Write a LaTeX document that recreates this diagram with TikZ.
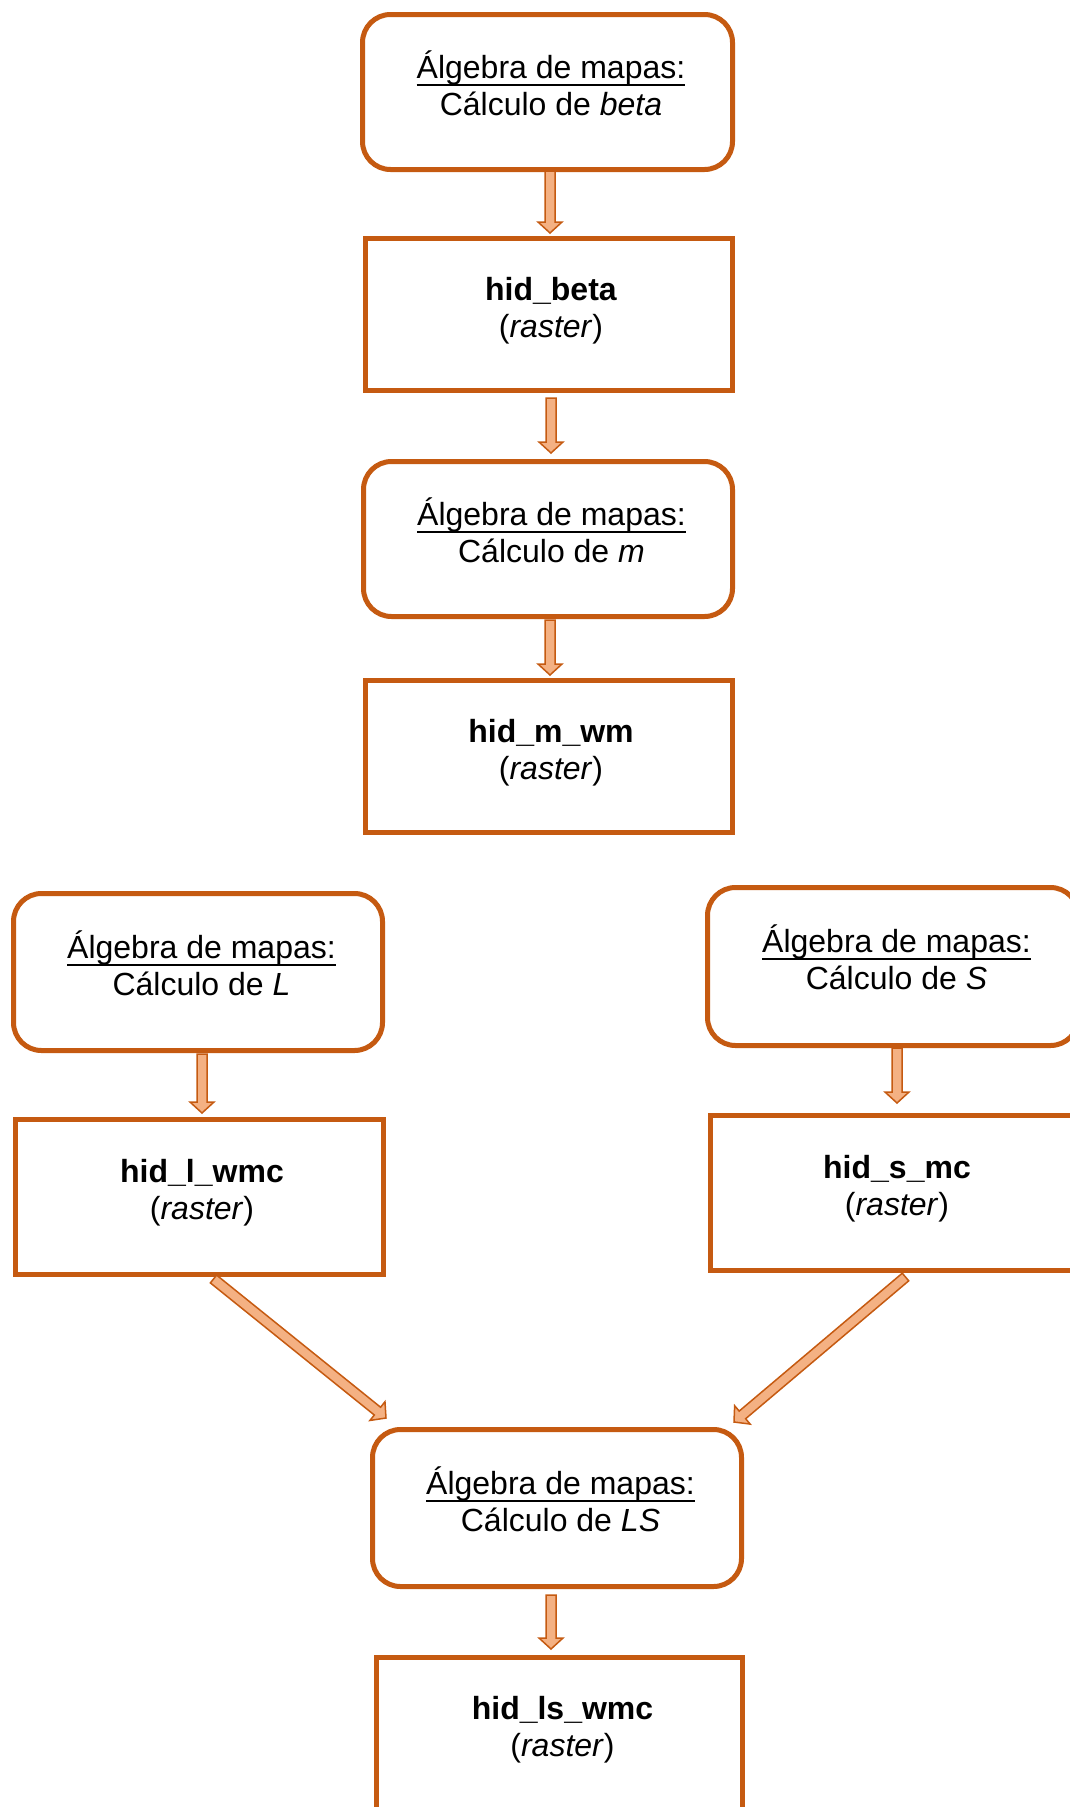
\documentclass[tikz,border=0pt]{standalone}
\usepackage{fontspec}
\setmainfont{Liberation Sans}
\usetikzlibrary{calc}
\definecolor{dk}{RGB}{197,90,17}
\definecolor{lt}{RGB}{244,177,131}
\newsavebox\myulbox
\newcommand\myul[1]{\sbox\myulbox{#1}\rlap{\rule[-7.5pt]{\wd\myulbox}{2pt}}\usebox\myulbox}
\newcommand\drawblockarrow{%
  \coordinate (ba-h) at ($(ba-e)!11pt!(ba-s)$);
  \draw[barrow] ($(ba-s)!5pt!90:(ba-e)$) -- ($(ba-h)!5pt!90:(ba-e)$) -- ($(ba-h)!12pt!90:(ba-e)$) -- (ba-e)
     -- ($(ba-h)!12pt!-90:(ba-e)$) -- ($(ba-h)!5pt!-90:(ba-e)$) -- ($(ba-s)!5pt!-90:(ba-e)$) -- cycle;
}
% free (diagonal) block arrow
\newcommand\blockarrow[2]{%
  \coordinate (ba-s) at #1;
  \coordinate (ba-e) at #2;
  \drawblockarrow
}
% vertical block arrow: start point, target point (only its y is used), gap above target
\newcommand\vblockarrow[3]{%
  \coordinate (ba-s) at #1;
  \coordinate (ba-t) at (ba-s |- #2);
  \coordinate (ba-e) at ([shift={(0,-#3)}]ba-t);
  \drawblockarrow
}
\tikzset{
  barrow/.style={draw=dk, fill=lt, line width=1.5pt, line join=miter},
  rbox/.style={draw=dk, line width=5pt, rounded corners=28pt, inner sep=0pt, fill=white},
  sbox/.style={draw=dk, line width=5pt, inner sep=0pt, fill=white},
  txt/.style={align=center, inner sep=0pt, text=black}
}
\begin{document}
\begin{tikzpicture}[x=1pt, y=-1pt, font=\fontsize{32}{37}\selectfont]
\useasboundingbox (0,0) rectangle (1070,1807);
\clip (0,0) rectangle (1070,1807);
% boxes
\node[rbox, minimum width=370pt, minimum height=155pt] (b1) at (547.5,92) {};
\node[sbox, minimum width=367pt, minimum height=152pt] (b2) at (549,314.5) {};
\node[rbox, minimum width=369pt, minimum height=155pt] (b3) at (548,539) {};
\node[sbox, minimum width=367pt, minimum height=152pt] (b4) at (549,756.5) {};
\node[rbox, minimum width=369pt, minimum height=157pt] (l1) at (198,972) {};
\node[sbox, minimum width=368pt, minimum height=155pt] (l2) at (199.5,1197) {};
\node[rbox, minimum width=371pt, minimum height=158pt] (s1) at (893,966.5) {};
\node[sbox, minimum width=370pt, minimum height=155pt] (s2) at (895.5,1193) {};
\node[rbox, minimum width=369pt, minimum height=157pt] (ls1) at (557,1508) {};
\node[sbox, minimum width=366pt, minimum height=152pt] (ls2) at (559.5,1733.5) {};
% texts
\node[txt] (t-b1) at ([shift={(3.5,-3.5)}]b1.center) {\myul{Álgebra de mapas:}\strut\\Cálculo de \textit{beta}\strut};
\node[txt] (t-b2) at ([shift={(2,-3)}]b2.center) {\textbf{hid\_beta}\strut\\(\textit{raster})\strut};
\node[txt] (t-b3) at ([shift={(3.5,-3.5)}]b3.center) {\myul{Álgebra de mapas:}\strut\\Cálculo de \textit{m}\strut};
\node[txt] (t-b4) at ([shift={(2,-3)}]b4.center) {\textbf{hid\_m\_wm}\strut\\(\textit{raster})\strut};
\node[txt] (t-l1) at ([shift={(3.5,-3.5)}]l1.center) {\myul{Álgebra de mapas:}\strut\\Cálculo de \textit{L}\strut};
\node[txt] (t-l2) at ([shift={(2.5,-3)}]l2.center) {\textbf{hid\_l\_wmc}\strut\\(\textit{raster})\strut};
\node[txt] (t-s1) at ([shift={(3.5,-3.5)}]s1.center) {\myul{Álgebra de mapas:}\strut\\Cálculo de \textit{S}\strut};
\node[txt] (t-s2) at ([shift={(1.5,-3)}]s2.center) {\textbf{hid\_s\_mc}\strut\\(\textit{raster})\strut};
\node[txt] (t-ls1) at ([shift={(3.5,-3.5)}]ls1.center) {\myul{Álgebra de mapas:}\strut\\Cálculo de \textit{LS}\strut};
\node[txt] (t-ls2) at ([shift={(3,-3)}]ls2.center) {\textbf{hid\_ls\_wmc}\strut\\(\textit{raster})\strut};
% arrows
\vblockarrow{([shift={(2.5,-1)}]b1.south)}{b2.north}{3}
\vblockarrow{([shift={(2,5)}]b2.south)}{b3.north}{6}
\vblockarrow{([shift={(2,1)}]b3.south)}{b4.north}{3}
\vblockarrow{([shift={(4,1)}]l1.south)}{l2.north}{4}
\vblockarrow{([shift={(4,0)}]s1.south)}{s2.north}{10}
\vblockarrow{([shift={(-6,6)}]ls1.south)}{ls2.north}{6}
\blockarrow{([shift={(14,2)}]l2.south)}{([shift={(16,-9)}]ls1.north west)}
\blockarrow{([shift={(10,4)}]s2.south)}{([shift={(-10,-5)}]ls1.north east)}
\end{tikzpicture}
\end{document}
